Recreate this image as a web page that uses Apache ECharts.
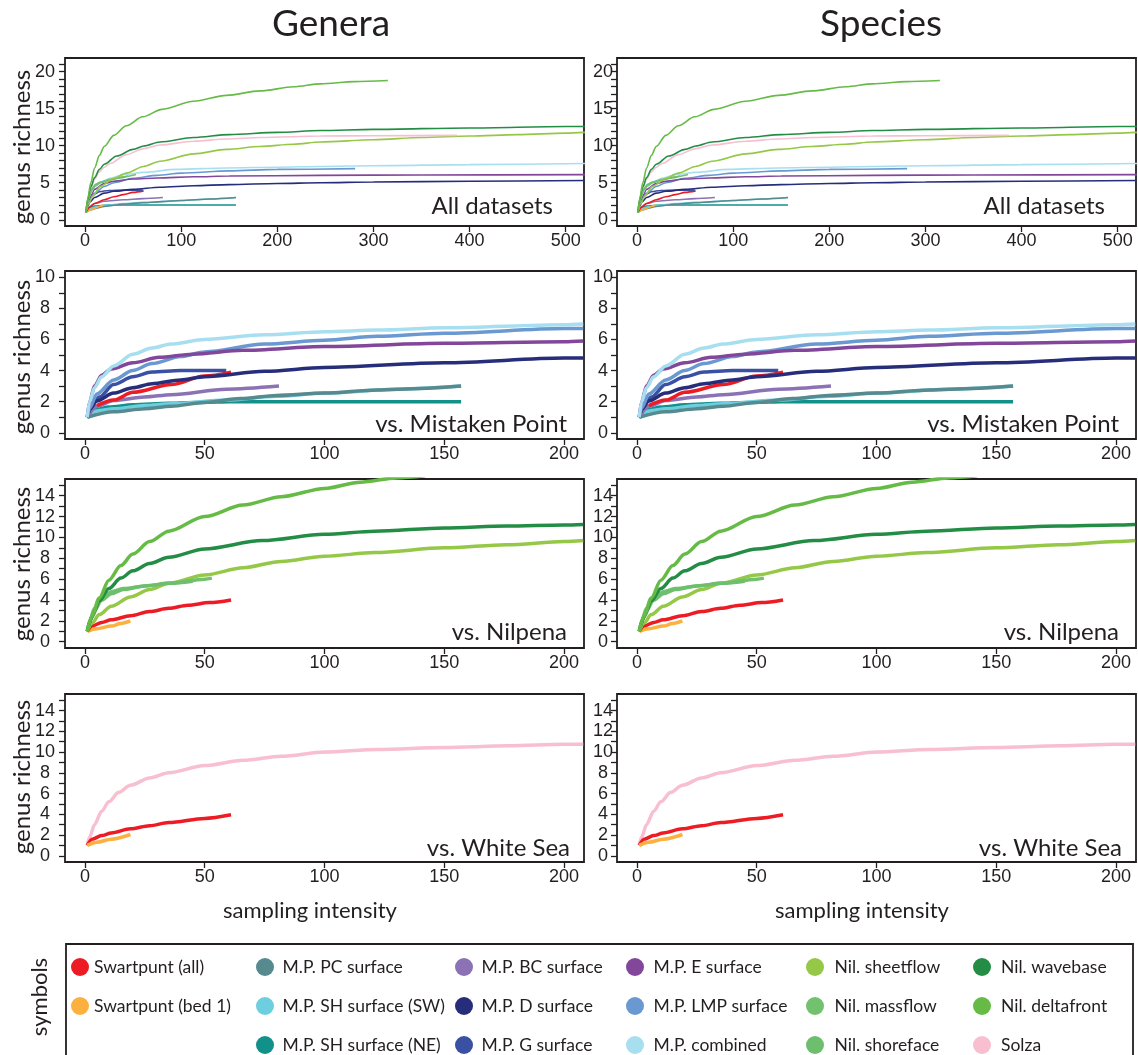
<!DOCTYPE html>
<html>
<head>
<meta charset="utf-8">
<script src="https://cdn.jsdelivr.net/npm/echarts@6/dist/echarts.min.js"></script>
<style>
html,body{margin:0;padding:0;background:#fff;}
#c{width:1138px;height:1055px;}
</style>
</head>
<body>
<div id="c"></div>
<script>
// ---------- tick labels ----------
const xTicksAll = [0, 100, 200, 300, 400, 500];
const xTicksSub = [0, 50, 100, 150, 200];
const yTicksAll = [0,1,2,3,4,5,6,7,8,9,10,11,12,13,14,15,16,17,18,19,20,21];
const yLabelsAll = [0, 5, 10, 15, 20];
const yTicksMP = [0,1,2,3,4,5,6,7,8,9,10];
const yLabelsMP = [0, 2, 4, 6, 8, 10];
const yTicksNW = [0,1,2,3,4,5,6,7,8,9,10,11,12,13,14,15];
const yLabelsNW = [0, 2, 4, 6, 8, 10, 12, 14];

// ---------- panel 1: All datasets ----------
const A_red    = [[1,1],[5,1.7],[10,2.2],[20,2.7],[30,3.1],[40,3.4],[50,3.7],[61,3.9]];
const A_orange = [[1,1],[5,1.3],[10,1.55],[15,1.8],[19,2.0]];
const A_pc     = [[1,1],[5,1.3],[10,1.5],[20,1.8],[40,2.1],[60,2.3],[80,2.45],[100,2.6],[130,2.8],[157,3.0]];
const A_shsw   = [[1,1],[5,1.5],[10,1.7],[20,1.9],[40,2.2],[60,2.35],[100,2.6],[130,2.8],[157,3.0]];
const A_shne   = [[1,1],[3,1.5],[5,1.7],[10,1.85],[20,1.95],[30,2],[157,2]];
const A_bc     = [[1,1],[5,1.8],[10,2.2],[20,2.5],[40,2.7],[60,2.85],[81,3]];
const A_d      = [[1,1],[3,1.9],[5,2.4],[10,3.0],[20,3.6],[30,3.85],[50,4.1],[78,4.4],[113,4.6],[150,4.75],[200,4.9],[245,5.0],[300,5.1],[400,5.2],[520,5.3]];
const A_g      = [[1,1],[3,2.2],[5,2.9],[10,3.5],[15,3.8],[25,3.95],[40,4],[60,4]];
const A_e      = [[1,1],[3,2.3],[5,3.0],[10,4.1],[20,4.9],[30,5.2],[50,5.5],[75,5.65],[113,5.8],[150,5.9],[245,6.0],[350,6.05],[520,6.1]];
const A_lmp    = [[1,1],[3,2.1],[5,2.8],[10,3.6],[20,4.5],[30,5.0],[50,5.6],[75,6.0],[100,6.3],[150,6.6],[200,6.8],[281,6.9]];
const A_comb   = [[1,1],[3,2.6],[5,3.4],[10,4.5],[20,5.3],[26,5.6],[40,6.1],[61,6.4],[95,6.8],[147,7.0],[200,7.1],[245,7.2],[300,7.3],[400,7.45],[520,7.6]];
const A_sheet  = [[1,1],[4,2.2],[8,3.2],[16,4.5],[30,5.6],[43,6.3],[61,7.2],[78,7.9],[113,8.9],[147,9.5],[182,9.9],[217,10.2],[245,10.5],[300,10.8],[350,11.1],[400,11.3],[450,11.5],[500,11.7],[520,11.8]];
const A_mass   = [[1,1],[2,2.0],[4,3.2],[7,4.2],[11,4.8],[16,5.1],[27,5.45],[40,5.8],[53,6.1]];
const A_shore  = [[1,1],[2,1.9],[4,3.0],[7,4.0],[11,4.6],[16,5.0],[25,5.35],[35,5.6],[45,5.9]];
const A_wave   = [[1,1],[3,2.8],[6,4.4],[10,5.7],[15,6.8],[20,7.5],[33,8.6],[50,9.5],[61,9.95],[78,10.5],[113,11.1],[150,11.5],[200,11.8],[245,12.05],[300,12.2],[400,12.4],[500,12.6],[520,12.6]];
const A_delta  = [[1,1],[3,3.0],[6,5.0],[10,7.0],[15,8.7],[20,9.9],[30,11.4],[43,12.7],[60,13.9],[80,14.9],[113,16],[147,16.8],[182,17.4],[217,17.95],[245,18.35],[280,18.65],[315,18.8]];
const A_solza  = [[1,1],[3,2.8],[6,4.3],[10,5.5],[15,6.5],[20,7.1],[26,7.6],[43,8.8],[61,9.6],[78,10.1],[113,10.6],[147,10.9],[182,11.1],[245,11.3],[300,11.35],[387,11.4]];

// ---------- panel 2: vs. Mistaken Point ----------
const M_red  = [[5,1.75],[12,2.1],[20,2.6],[36,3.1],[50,3.65],[61,3.9]];
const M_pc   = [[1,1],[12,1.35],[25,1.55],[36,1.7],[50,1.95],[65,2.2],[80,2.4],[100,2.55],[122,2.75],[140,2.85],[157,3.0]];
const M_shsw = [[1,1],[5,1.4],[12,1.55],[25,1.75],[36,1.86],[59,2.1],[80,2.35],[100,2.55],[130,2.8],[157,3.0]];
const M_shne = [[1,1],[5,1.5],[10,1.65],[20,1.8],[35,1.9],[50,1.97],[60,2],[157,2]];
const M_bc   = [[1,1],[5,1.7],[12,2.07],[25,2.3],[36,2.45],[59,2.8],[81,3.0]];
const M_d    = [[1,1],[2,1.5],[5,2.05],[12,2.55],[20,2.9],[28,3.15],[40,3.4],[50,3.6],[75,3.95],[100,4.2],[150,4.5],[200,4.8],[208,4.8]];
const M_g    = [[1,1],[3,1.8],[6,2.3],[12,3.1],[20,3.6],[28,3.9],[40,4.0],[59,4.0]];
const M_e    = [[1,1],[2,2.0],[4,3.0],[7,3.7],[11,4.1],[20,4.5],[31,4.85],[45,5.05],[66,5.3],[100,5.55],[150,5.75],[200,5.85],[208,5.9]];
const M_lmp  = [[1,1],[2,1.6],[5,2.5],[12,3.4],[20,4.0],[28,4.45],[40,4.9],[50,5.2],[75,5.7],[100,5.95],[122,6.2],[150,6.4],[200,6.7],[208,6.7]];
const M_comb = [[1,1],[2,2.0],[4,2.9],[7,3.6],[12,4.3],[20,5.05],[28,5.45],[36,5.7],[50,6.0],[75,6.3],[100,6.5],[122,6.6],[150,6.75],[200,6.95],[208,7.0]];

// ---------- panel 3: vs. Nilpena ----------
const N_delta  = [[1,1],[3,2.5],[6,4.2],[10,5.9],[15,7.3],[20,8.4],[27,9.6],[35,10.6],[50,12.0],[66,13.1],[82,13.9],[100,14.7],[115,15.3],[130,15.7],[142,15.9]];
const N_wave   = [[1,1],[3,2.4],[6,3.9],[10,5.1],[15,6.1],[20,6.8],[27,7.5],[35,8.1],[50,8.9],[74,9.7],[100,10.3],[121,10.6],[150,10.9],[176,11.1],[200,11.2],[208,11.25]];
const N_sheet  = [[1,1],[3,1.8],[6,2.6],[11,3.4],[19,4.3],[27,5.0],[35,5.6],[50,6.4],[66,7.1],[82,7.7],[100,8.2],[121,8.55],[150,9.0],[176,9.3],[200,9.6],[208,9.7]];
const N_mass   = [[1,1],[2,2.0],[4,3.2],[7,4.2],[11,4.8],[16,5.1],[27,5.4],[35,5.6],[50,6.0],[53,6.1]];
const N_shore  = [[1,1],[2,1.9],[4,3.0],[7,4.0],[11,4.6],[16,5.0],[25,5.35],[35,5.6],[45,5.8]];
const N_red    = [[1,1],[3,1.5],[7,1.85],[11,2.1],[19,2.5],[27,2.9],[35,3.2],[43,3.5],[52,3.75],[61,4.0]];
const N_orange = [[1,1],[5,1.25],[11,1.5],[15,1.75],[19,2.0]];

// ---------- panel 4: vs. White Sea ----------
const W_solza  = [[1,1],[2,1.8],[4,3.0],[7,4.3],[10,5.2],[14,6.1],[19,6.8],[27,7.5],[35,8.0],[50,8.7],[66,9.2],[82,9.6],[100,10.0],[122,10.25],[150,10.45],[177,10.6],[200,10.75],[208,10.75]];
const W_red    = [[1,1],[3,1.6],[7,1.95],[11,2.2],[19,2.6],[27,2.9],[35,3.2],[50,3.6],[61,3.95]];
const W_orange = [[1,1],[5,1.3],[11,1.6],[19,2.05]];

// ---------- names / colours ----------
const NAMES = {
  red:'Swartpunt (all)', orange:'Swartpunt (bed 1)', pc:'M.P. PC surface', shsw:'M.P. SH surface (SW)',
  shne:'M.P. SH surface (NE)', bc:'M.P. BC surface', d:'M.P. D surface', g:'M.P. G surface',
  e:'M.P. E surface', lmp:'M.P. LMP surface', comb:'M.P. combined', sheet:'Nil. sheetflow',
  mass:'Nil. massflow', shore:'Nil. shoreface', wave:'Nil. wavebase', delta:'Nil. deltafront', solza:'Solza'
};
const COLORS = {
  red:'#ed1c24', orange:'#fbb040', pc:'#568a8e', shsw:'#6dcedf', shne:'#12918a', bc:'#8a72b5',
  d:'#262d7b', g:'#3a51a3', e:'#82479b', lmp:'#6a98d0', comb:'#a7dff1', sheet:'#95c847',
  mass:'#72c16e', shore:'#6dbf6e', wave:'#238d45', delta:'#66bb46', solza:'#f7bfcf'
};

const panels = [
  { label:'All datasets', labelX:553, labelY:206, xMin:-20.8, xMax:519, xTicks:xTicksAll, yMin:-0.84, yMax:21.84, yTicks:yTicksAll, yLabels:yLabelsAll, lw:1.6, nameY:147,
    series:[['shne',A_shne],['shsw',A_shsw],['pc',A_pc],['bc',A_bc],['orange',A_orange],['red',A_red],['g',A_g],['d',A_d],['lmp',A_lmp],['e',A_e],['comb',A_comb],['mass',A_mass],['shore',A_shore],['sheet',A_sheet],['solza',A_solza],['wave',A_wave],['delta',A_delta]] },
  { label:'vs. Mistaken Point', labelX:567, labelY:424, xMin:-8.3, xMax:208.3, xTicks:xTicksSub, yMin:-0.4, yMax:10.4, yTicks:yTicksMP, yLabels:yLabelsMP, lw:3.5, nameY:357,
    series:[['shne',M_shne],['shsw',M_shsw],['pc',M_pc],['bc',M_bc],['red',M_red],['g',M_g],['d',M_d],['lmp',M_lmp],['e',M_e],['comb',M_comb]] },
  { label:'vs. Nilpena', labelX:567, labelY:632, xMin:-8.3, xMax:208.3, xTicks:xTicksSub, yMin:-0.6, yMax:15.6, yTicks:yTicksNW, yLabels:yLabelsNW, lw:3.5, nameY:564,
    series:[['orange',N_orange],['red',N_red],['sheet',N_sheet],['mass',N_mass],['shore',N_shore],['wave',N_wave],['delta',N_delta]] },
  { label:'vs. White Sea', labelX:570, labelY:848, xMin:-8.3, xMax:208.3, xTicks:xTicksSub, yMin:-0.6, yMax:15.6, yTicks:yTicksNW, yLabels:yLabelsNW, lw:3.5, nameY:777,
    series:[['solza',W_solza],['red',W_red],['orange',W_orange]] }
];

const COL_LEFT = [65, 617];
const LABEL_MARGIN = [20, 14];
const GRID_W = 519;
const ROW_TOP = [58, 271, 479, 694];
const ROW_H = [168, 168, 169, 168];
const TXT = '#231f20';
const MYR = 'Lato';

const grids = [], xAxes = [], yAxes = [], series = [], graphics = [];
let idx = 0;
for (let c = 0; c < 2; c++) {
  for (let r = 0; r < 4; r++) {
    const p = panels[r];
    grids.push({ left: COL_LEFT[c], top: ROW_TOP[r], width: GRID_W, height: ROW_H[r], show: true,
      borderColor: TXT, borderWidth: 1.8, backgroundColor: 'transparent' });
    xAxes.push({ type:'value', gridIndex: idx, min: p.xMin, max: p.xMax,
      axisLine:{show:false, onZero:false}, splitLine:{show:false},
      axisTick:{show:true, inside:false, length:6, customValues:p.xTicks, lineStyle:{color:TXT, width:1.3}},
      axisLabel:{show:true, customValues:p.xTicks, margin:6, fontSize:18, fontFamily:'Liberation Sans', color:TXT} });
    yAxes.push({ type:'value', gridIndex: idx, min: p.yMin, max: p.yMax,
      axisLine:{show:false, onZero:false}, splitLine:{show:false},
      axisTick:{show:true, inside:false, length:6, customValues:p.yTicks, lineStyle:{color:TXT, width:1.3}},
      axisLabel:{show:true, customValues:p.yLabels, margin:LABEL_MARGIN[c], align:'center', fontSize:18, fontFamily:'Liberation Sans', color:TXT} });
    p.series.forEach(([key, data]) => {
      series.push({ type:'line', name: NAMES[key], xAxisIndex: idx, yAxisIndex: idx, data: data,
        color: COLORS[key], showSymbol:false, smooth:0.3, smoothMonotone:'x', clip:true,
        lineStyle:{color: COLORS[key], width: p.lw}, emphasis:{disabled:true}, silent:true });
    });
    graphics.push({ type:'text', x: p.labelX + c * 552, y: p.labelY,
      style:{ text: p.label, fontSize:24, fontFamily:MYR, fill:TXT, align:'right', verticalAlign:'middle' } });
    if (c === 0) {
      graphics.push({ type:'text', x:22, y:p.nameY, rotation:Math.PI/2,
        style:{ text:'genus richness', fontSize:24, fontFamily:MYR, fill:TXT, align:'center', verticalAlign:'middle' } });
    }
    idx++;
  }
}

// column titles & axis names
graphics.push({ type:'text', x:331, y:24, style:{text:'Genera', fontSize:37, fontFamily:MYR, fill:TXT, align:'center', verticalAlign:'middle'} });
graphics.push({ type:'text', x:881, y:24, style:{text:'Species', fontSize:37, fontFamily:MYR, fill:TXT, align:'center', verticalAlign:'middle'} });
graphics.push({ type:'text', x:310, y:911, style:{text:'sampling intensity', fontSize:22, fontFamily:MYR, fill:TXT, align:'center', verticalAlign:'middle'} });
graphics.push({ type:'text', x:862, y:911, style:{text:'sampling intensity', fontSize:22, fontFamily:MYR, fill:TXT, align:'center', verticalAlign:'middle'} });
// legend frame and side label
graphics.push({ type:'rect', shape:{x:66, y:944, width:1067, height:130}, style:{fill:'none', stroke:TXT, lineWidth:1.8} });
graphics.push({ type:'text', x:40, y:997, rotation:Math.PI/2, style:{text:'symbols', fontSize:22, fontFamily:MYR, fill:TXT, align:'center', verticalAlign:'middle'} });

const legendCols = [
  { items:['red','orange'], center:80, text:94 },
  { items:['pc','shsw','shne'], center:265, text:286 },
  { items:['bc','d','g'], center:464, text:485 },
  { items:['e','lmp','comb'], center:635, text:658 },
  { items:['sheet','mass','shore'], center:815, text:840 },
  { items:['wave','delta','solza'], center:982, text:1006 }
];
const legends = legendCols.map(col => ({
  orient:'vertical', left: col.center - 9, top: 958, padding:0,
  itemWidth: col.text - (col.center - 9) - 5, itemHeight: 18, itemGap: 21, icon:'circle', selectedMode:false,
  data: col.items.map(k => NAMES[k]),
  textStyle:{ fontSize:17.5, fontFamily:MYR, color:TXT }
}));

const chart = echarts.init(document.getElementById('c'), null, {renderer:'canvas'});
chart.setOption({
  animation:false,
  backgroundColor:'#fff',
  grid: grids, xAxis: xAxes, yAxis: yAxes, series: series,
  legend: legends,
  graphic: graphics
});
</script>
</body>
</html>
